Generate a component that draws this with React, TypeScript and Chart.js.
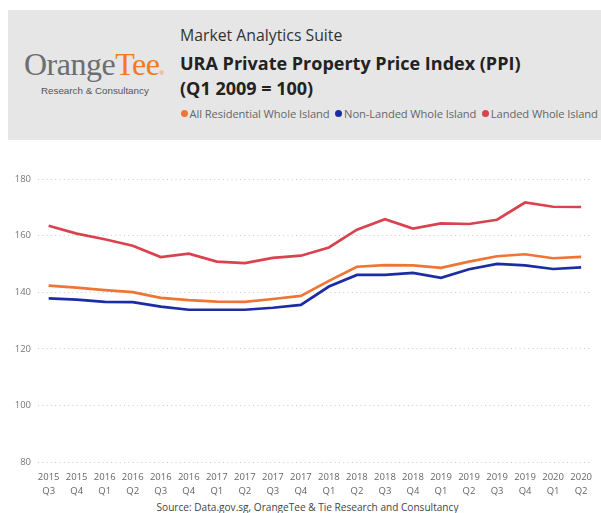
import React, { useEffect, useRef } from "react";
import { Chart, registerables } from "chart.js";

Chart.register(...registerables);

const years = ["2015","2015","2016","2016","2016","2016","2017","2017","2017","2017","2018","2018","2018","2018","2019","2019","2019","2019","2020","2020"];
const quarters = ["Q3","Q4","Q1","Q2","Q3","Q4","Q1","Q2","Q3","Q4","Q1","Q2","Q3","Q4","Q1","Q2","Q3","Q4","Q1","Q2"];

const allResidential = [142.3,141.6,140.7,140.0,138.0,137.2,136.7,136.6,137.6,138.7,144.0,149.0,149.6,149.5,148.6,150.8,152.7,153.4,152.0,152.5];
const nonLanded = [137.8,137.4,136.6,136.5,134.9,133.8,133.8,133.8,134.5,135.5,142.0,146.1,146.1,146.8,145.1,148.1,150.0,149.5,148.2,148.8];
const landed = [163.5,160.7,158.7,156.4,152.4,153.6,150.8,150.3,152.1,152.9,155.8,162.1,165.8,162.5,164.3,164.1,165.6,171.7,170.2,170.1];

const yTicks = [80,100,120,140,160,180];

const seriesNames = ["All Residential Whole Island","Non-Landed Whole Island","Landed Whole Island"];
const seriesColors = ["#ee7535","#1c2ca3","#d9434f"];
const seriesValues = [allResidential, nonLanded, landed];

const UI = "'Open Sans', 'Noto Sans', sans-serif";

export default function App() {
  const ref = useRef<HTMLCanvasElement | null>(null);

  useEffect(() => {
    if (!ref.current) return;
    const chart = new Chart(ref.current, {
      type: "line",
      data: {
        datasets: seriesValues.map((vals, si) => ({
          label: seriesNames[si],
          data: vals.map((v, i) => ({ x: i, y: v })),
          borderColor: seriesColors[si],
          backgroundColor: seriesColors[si],
          borderWidth: 2.7,
          pointRadius: 0,
          tension: 0,
          fill: false,
        })),
      },
      options: {
        animation: false,
        responsive: false,
        maintainAspectRatio: false,
        layout: { padding: { top: 29, right: 0, bottom: 0, left: 0 } },
        plugins: { legend: { display: false }, tooltip: { enabled: false } },
        scales: {
          x: {
            type: "linear",
            min: -0.38,
            max: 19.3,
            grid: { display: false, drawTicks: false },
            border: { display: false },
            afterBuildTicks: (axis: any) => {
              axis.ticks = years.map((_, i) => ({ value: i }));
            },
            afterFit: (axis: any) => {
              axis.height = 38;
            },
            ticks: {
              autoSkip: false,
              maxRotation: 0,
              minRotation: 0,
              padding: 9,
              color: "#666",
              font: { family: UI, size: 9.5, lineHeight: 1.4 },
              callback: (v: any) => [years[v], quarters[v]],
            },
          },
          y: {
            min: 80,
            max: 180,
            afterBuildTicks: (axis: any) => {
              axis.ticks = yTicks.map((v) => ({ value: v }));
            },
            afterFit: (axis: any) => {
              axis.width = 38;
            },
            grid: { color: "#c9c9c9", lineWidth: 1, drawTicks: false },
            border: { display: false, dash: [1, 3.3] },
            ticks: {
              padding: 7,
              color: "#777",
              font: { family: UI, size: 9.5 },
            },
          },
        },
      },
    });
    return () => chart.destroy();
  }, []);

  return (
    <div style={{ position: "fixed", left: 0, top: 0, width: 601, height: 513, background: "#fff", overflow: "hidden" }}>
      <div style={{ position: "absolute", left: 8, top: 10, width: 593, height: 130, background: "#e6e6e6" }} />
      <div style={{ position: "absolute", left: 24, top: 48, fontFamily: "'Liberation Serif', serif", fontSize: 32, lineHeight: "32px", letterSpacing: -0.5, whiteSpace: "nowrap" }}>
        <span style={{ color: "#6d6e71" }}>Orange</span>
        <span style={{ color: "#f47a20" }}>Tee</span>
        <span style={{ color: "#f47a20", fontSize: 6, fontFamily: "'Liberation Sans', sans-serif" }}>®</span>
      </div>
      <div style={{ position: "absolute", left: 41, top: 86, fontFamily: "'Liberation Sans', sans-serif", fontSize: 9.8, lineHeight: "10px", color: "#555", whiteSpace: "nowrap" }}>
        Research &amp; Consultancy
      </div>
      <div style={{ position: "absolute", left: 180, top: 26.5, fontFamily: UI, fontSize: 15.8, lineHeight: "16px", color: "#333", whiteSpace: "nowrap" }}>
        Market Analytics Suite
      </div>
      <div style={{ position: "absolute", left: 180, top: 54.2, fontFamily: UI, fontWeight: 700, fontSize: 18, lineHeight: "18px", color: "#222", whiteSpace: "nowrap" }}>
        URA Private Property Price Index (PPI)
      </div>
      <div style={{ position: "absolute", left: 180, top: 78.9, fontFamily: UI, fontWeight: 700, fontSize: 18, lineHeight: "18px", color: "#222", whiteSpace: "nowrap" }}>
        (Q1 2009 = 100)
      </div>
      <div style={{ position: "absolute", left: 180.5, top: 108.4, display: "flex", alignItems: "center", fontFamily: UI, fontSize: 11.2, lineHeight: "11px", letterSpacing: -0.1, color: "#666", whiteSpace: "nowrap" }}>
        {seriesNames.map((n, i) => (
          <div key={n} style={{ display: "flex", alignItems: "center", marginRight: 5.5 }}>
            <span style={{ width: 7, height: 7, borderRadius: "50%", background: seriesColors[i], marginRight: 2, display: "inline-block" }} />
            <span>{n}</span>
          </div>
        ))}
      </div>
      <canvas ref={ref} width={601} height={350} style={{ position: "absolute", left: 0, top: 150, width: 601, height: 350 }} />
      <div style={{ position: "absolute", left: 0, top: 502, width: 615, textAlign: "center", fontFamily: UI, fontSize: 10.1, lineHeight: "10px", color: "#444", whiteSpace: "nowrap" }}>
        Source: Data.gov.sg, OrangeTee &amp; Tie Research and Consultancy
      </div>
    </div>
  );
}
